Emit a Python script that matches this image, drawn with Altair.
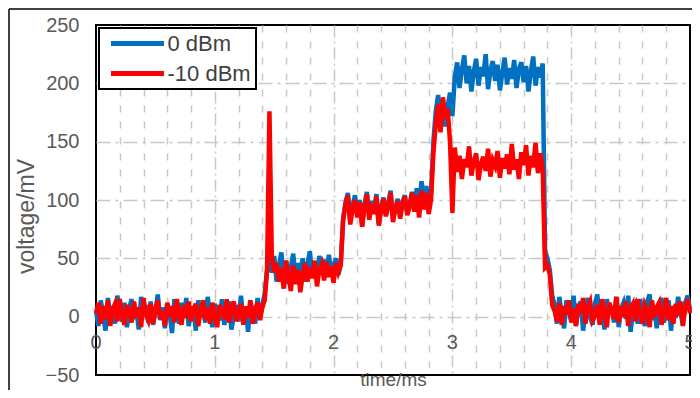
import altair as alt
import pandas as pd

FONT = "Liberation Sans"
STEP = 0.02  # sampling step of the traces, ms

# ---- 0 dBm trace (blue), segments: (start time in ms, values in mV) ----
blue_base1 = [5, -8, 14, 2, -12, 16, 0, 9, -6, 18, 3, -4, 12, -9, 7, 15, -2, 6, -11, 17,
              1, 10, -5, 13, -7, 4, 19, -3, 8, -10, 11, 2, -14, 15, 5, -6, 12, -1, 16, -8,
              3, 9, -12, 14, 0, 7, -5, 17, 2, -9, 11, 4, -3, 15, -7, 6, 13, -11, 1, 10,
              -4, 18, -2, 8, -13, 12, 5, -6, 16, 0, 9]
blue_step1 = [20, 40, 46, 38, 52, 30, 44, 55, 35, 48, 28, 42, 54, 33, 46, 38, 50, 30, 45, 56,
              36, 47, 32, 52, 40, 49, 34, 53, 38, 44, 50, 36, 45]
blue_step2 = [84, 98, 106, 82, 95, 104, 88, 100, 78, 96, 107, 85, 99, 90, 105, 80, 94, 102, 87, 97,
              108, 83, 93, 101, 86, 98, 104, 89, 96, 107, 92, 110, 95, 116, 100, 112, 98, 105]
blue_step3 = [150, 176, 190, 168, 186, 163, 180, 192, 172]
blue_step4 = [205, 218, 196, 212, 224, 200, 215, 193, 210, 221, 198, 214, 206, 225, 195, 211, 219, 202, 216, 194,
              209, 222, 199, 213, 204, 220, 196, 212, 218, 201, 215, 193, 210, 223, 198, 214, 205, 217]
blue_fall = [56, 50, 40, 18]
blue_base2 = [10, -6, 17, 2, -10, 14, 5, -3, 18, -8, 8, 13, -12, 4, 16, 0, -7, 11, 19, -4,
              6, -11, 15, 2, 9, -5, 17, -9, 7, 12, -2, 18, -13, 5, 10, -6, 15, 1, -8, 13,
              19, -3, 7, -10, 11, 16, -5, 3, 14, -12, 8, -1, 17, 4, -7, 12, 18, 6]
blue_segments = [(0.00, blue_base1), (1.42, blue_step1), (2.08, blue_step2), (2.84, blue_step3),
                 (3.02, blue_step4), (3.78, blue_fall), (3.86, blue_base2)]

# ---- -10 dBm trace (red) ----
red_base1 = [3, 12, -6, 9, -2, 14, -8, 6, 11, -4, 15, 1, -7, 10, 4, -5, 13, -1, 8, -9,
             16, 2, -3, 11, -6, 7, 14, -2, 5, -8, 12, 0, 9, -5, 15, 3, -7, 10, -1, 13,
             -4, 6, 11, -8, 4, 14, -3, 8, -6, 12, 1, -9, 10, 5, -2, 15, -5, 7, 13, -4,
             2, 11, -7, 9, -1, 14, -6, 6, 12, -3, 8]
red_step1 = [14, 40, 176, 52, 38, 46, 30, 42, 24, 48, 35, 22, 44, 28, 40, 21, 36, 46, 30, 42,
             33, 48, 26, 40, 45, 31, 47, 34, 43, 29, 46, 38, 44]
red_step2 = [82, 96, 104, 79, 92, 100, 85, 98, 77, 94, 105, 83, 97, 88, 103, 78, 91, 101, 86, 95,
             106, 81, 93, 99, 84, 97, 103, 87, 94, 106, 90, 104, 85, 108, 92, 106, 88, 100]
red_step3 = [140, 165, 182, 158, 188, 170, 178, 150, 89]
red_step4 = [145, 124, 138, 118, 135, 128, 146, 121, 133, 140, 117, 131, 137, 125, 144, 120, 134, 129, 142, 119,
             136, 127, 139, 122, 148, 126, 135, 118, 141, 130, 147, 121, 138, 128, 149, 123, 140, 126]
red_fall = [42, 44, 36, 10]
red_base2 = [5, -4, 12, -7, 9, 2, 14, -5, 7, -8, 11, 3, 16, -6, 8, 13, -3, 1, 10, -7,
             15, 4, -9, 12, 6, -2, 17, -5, 9, 0, 13, -8, 7, 11, -4, 15, 2, -6, 10, 5,
             -9, 14, -1, 8, 12, -7, 4, 16, -3, 9, -6, 11, 1, 13, -8, 7, 15, 3]
red_segments = [(0.00, red_base1), (1.42, red_step1), (2.08, red_step2), (2.84, red_step3),
                (3.02, red_step4), (3.78, red_fall), (3.86, red_base2)]

series_names = ["0 dBm", "-10 dBm"]
series_colors = ["#0070C0", "#FF0000"]

x_tick_values = [0, 1, 2, 3, 4, 5]
x_tick_labels = ["0", "1", "2", "3", "4", "5"]
x_grid_values = [0, 0.2, 0.4, 0.6, 0.8, 1, 1.2, 1.4, 1.6, 1.8, 2, 2.2, 2.4, 2.6, 2.8,
                 3, 3.2, 3.4, 3.6, 3.8, 4, 4.2, 4.4, 4.6, 4.8, 5]
y_tick_values = [-50, 0, 50, 100, 150, 200, 250]


def build(segments, name):
    rows = []
    for start, vals in segments:
        for k, v in enumerate(vals):
            rows.append({"t": round(start + STEP * k, 4), "v": v, "series": name})
    return rows


df = pd.DataFrame(build(blue_segments, series_names[0]) + build(red_segments, series_names[1]))
labels_df = pd.DataFrame({"t": x_tick_values, "v": [0] * len(x_tick_values), "label": x_tick_labels})

GRID = "#c8c8c8"
TXT = "#595959"

x_enc = alt.X(
    "t:Q",
    scale=alt.Scale(domain=[0, 5], nice=False, zero=False),
    axis=alt.Axis(
        values=x_grid_values, grid=True, gridColor=GRID, gridWidth=1.5,
        gridOpacity={"condition": {"test": "datum.value <= 0.01 || datum.value >= 4.99", "value": 0},
                     "value": 1},
        gridDash={"condition": {"test": "abs(datum.value - round(datum.value)) < 0.01",
                                "value": [12, 4, 2, 4]},
                  "value": [7, 9]},
        labels=False, ticks=False, domain=False,
        title="time/ms", titleFont=FONT, titleFontSize=19, titleFontWeight="normal",
        titleColor=TXT, titleY=10, titleBaseline="alphabetic", titlePadding=0,
    ),
)
y_enc = alt.Y(
    "v:Q",
    scale=alt.Scale(domain=[-50, 250], nice=False, zero=False),
    axis=alt.Axis(
        values=y_tick_values, grid=True, gridColor=GRID, gridWidth=1.5, gridDash=[14, 5, 3, 5],
        gridOpacity={"condition": {"test": "datum.value <= -50 || datum.value >= 250", "value": 0},
                     "value": 1},
        domain=False, ticks=False, labelPadding=17, labelFont=FONT, labelFontSize=20,
        labelColor=TXT, title="voltage/mV", titleFont=FONT, titleFontSize=23,
        titleFontWeight="normal", titleColor=TXT, titleAngle=270, titleX=-70, titleY=191,
        titleAlign="center", titleBaseline="middle",
    ),
)
color_enc = alt.Color(
    "series:N",
    scale=alt.Scale(domain=series_names, range=series_colors),
    legend=alt.Legend(
        orient="none", legendX=3, legendY=3, title=None, symbolType="stroke",
        symbolSize=2809, symbolStrokeWidth=5, labelFont=FONT, labelFontSize=22,
        labelColor="#404040", padding=4.5, clipHeight=22, rowPadding=8, symbolOffset=5,
        labelOffset=1, strokeColor="black", fillColor="white", labelLimit=0,
    ),
)

base = alt.Chart(df)
blue = base.transform_filter(alt.datum.series == series_names[0]).mark_line(strokeWidth=4.5).encode(
    x=x_enc, y=y_enc, color=color_enc)
red = base.transform_filter(alt.datum.series == series_names[1]).mark_line(strokeWidth=4.5).encode(
    x=x_enc, y=y_enc, color=color_enc)

xlabels = alt.Chart(labels_df).mark_text(dy=26, font=FONT, fontSize=20, color=TXT).encode(
    x=x_enc, y=y_enc, text="label:N")

frame_df = pd.DataFrame({"a": [0]})
frame_left = alt.Chart(frame_df).mark_rule(color="black", strokeWidth=1.5).encode(
    x=alt.value(-87), y=alt.value(-16), y2=alt.value(366))
frame_top = alt.Chart(frame_df).mark_rule(color="black", strokeWidth=1.5).encode(
    x=alt.value(-87), x2=alt.value(600), y=alt.value(-16))

chart = alt.layer(blue, red, xlabels, frame_left, frame_top).properties(
    width=594, height=350,
    padding={"left": 88, "top": 17, "right": 2, "bottom": 15},
    autosize=alt.AutoSizeParams(type="none"),
).configure_view(stroke="black", strokeWidth=2).configure_legend(strokeWidth=2)

chart.save("out.html", embed_options={"renderer": "svg", "actions": False})
